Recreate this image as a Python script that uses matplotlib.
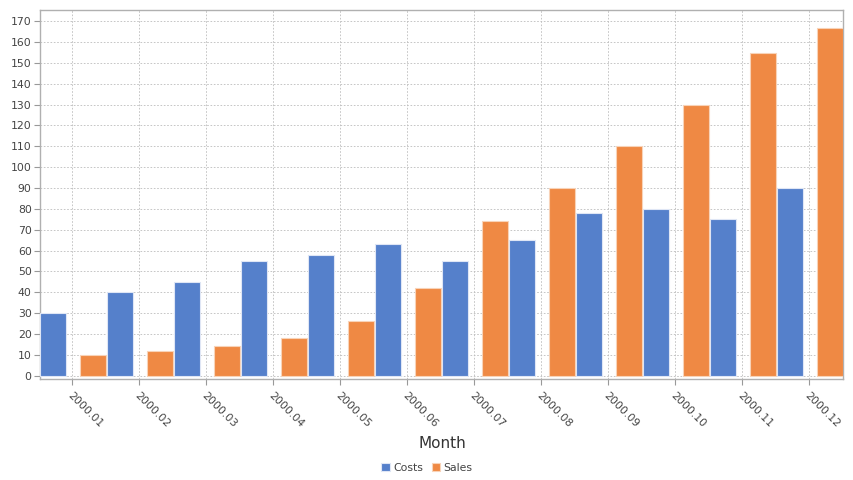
import matplotlib
matplotlib.use("Agg")
import matplotlib.pyplot as plt
import numpy as np

# data
months = ["2000.01", "2000.02", "2000.03", "2000.04", "2000.05", "2000.06",
          "2000.07", "2000.08", "2000.09", "2000.10", "2000.11", "2000.12"]
costs = [30, 40, 45, 55, 58, 63, 55, 65, 78, 80, 75, 90]
sales = [10, 12, 14, 18, 26, 42, 74, 90, 110, 130, 155, 167]

blue = "#5580cb"
orange = "#ef8944"
txt = "#444444"

plt.rcParams["font.family"] = "DejaVu Sans"

fig = plt.figure(figsize=(8.54, 4.8), dpi=100)
ax = fig.add_axes([40 / 854, 101 / 480, 803 / 854, 369 / 480])

x = np.arange(len(months))
w = 0.39
ax.bar(x - 0.285, costs, w, color=blue, edgecolor="#dfe6f5", linewidth=0.8,
       label="Costs", zorder=3)
ax.bar(x + 0.30, sales, w, color=orange, edgecolor="#f8d3b8", linewidth=0.8,
       label="Sales", zorder=3)

ax.set_xlim(-0.485, 11.5)
ax.set_ylim(-1.6, 175.4)
ax.set_yticks(range(0, 171, 10))
ax.set_xticks(x)
ax.set_xticklabels(months, rotation=-45, ha="left", va="top",
                   rotation_mode="anchor")

ax.grid(True, color="#bdbdbd", linestyle=(0, (2, 2)), linewidth=0.6, zorder=0)
for s in ax.spines.values():
    s.set_color("#b0b0b0")
    s.set_linewidth(1.0)
ax.tick_params(axis="both", colors="#999999", labelcolor=txt, labelsize=7.8,
               length=4, width=0.8)
ax.tick_params(axis="x", pad=4)
ax.tick_params(axis="y", pad=2)

fig.text(442 / 854, 1 - 443 / 480, "Month", ha="center", va="center",
         fontsize=11, color="#333333")

leg = fig.legend(loc="center", bbox_to_anchor=(427 / 854, 1 - 468 / 480), ncol=2,
                 frameon=False, fontsize=7.8, handlelength=0.8, handleheight=0.8,
                 handletextpad=0.3, columnspacing=0.8)
for t in leg.get_texts():
    t.set_color(txt)

fig.savefig("out.png", dpi=100)
